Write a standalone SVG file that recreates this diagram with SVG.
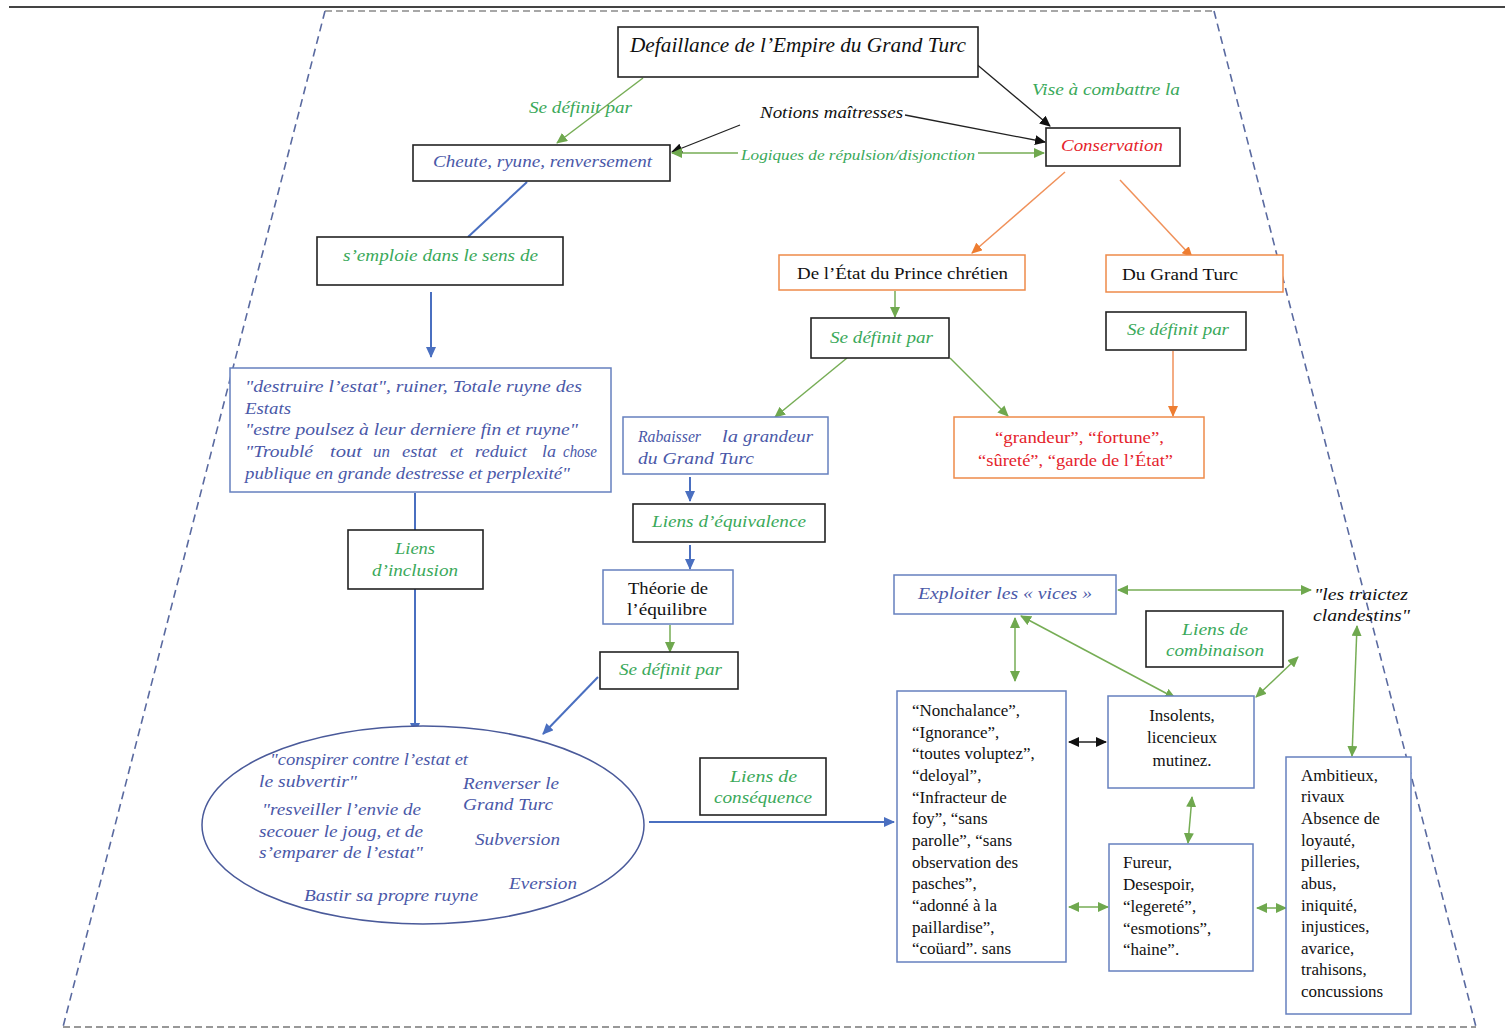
<svg xmlns="http://www.w3.org/2000/svg" width="1505" height="1030" viewBox="0 0 1505 1030">
<style>
text{font-family:"Liberation Serif","Times New Roman",serif;font-size:17px;fill:#111}
.it{font-style:italic;font-size:16px}
.g{fill:#3aa95a}
.b{fill:#4a58a8}
.r{fill:#e5232b}
.k{fill:#111}
.bx{fill:#fff;stroke:#222;stroke-width:1.6}
.bb{fill:#fff;stroke:#6680bf;stroke-width:1.5}
.ob{fill:#fff;stroke:#ee8a4a;stroke-width:1.5}
.lg{stroke:#76ad55;stroke-width:1.5;fill:none}
.lb{stroke:#4a6fc0;stroke-width:2;fill:none}
.lo{stroke:#f0915a;stroke-width:1.5;fill:none}
.lk{stroke:#222;stroke-width:1.3;fill:none}
.ag{marker-end:url(#mg)}
.ab{marker-end:url(#mb)}
.ao{marker-end:url(#mo)}
.ak{marker-end:url(#mk)}
.dg{marker-start:url(#mg);marker-end:url(#mg)}
.dk{marker-start:url(#mk);marker-end:url(#mk)}
</style>
<defs>
<marker id="mg" markerUnits="userSpaceOnUse" markerWidth="11" markerHeight="10" refX="10" refY="5" orient="auto-start-reverse"><path d="M0,0 L11,5 L0,10 z" fill="#6fa84e"/></marker>
<marker id="mb" markerUnits="userSpaceOnUse" markerWidth="11" markerHeight="10" refX="10" refY="5" orient="auto-start-reverse"><path d="M0,0 L11,5 L0,10 z" fill="#4a6fc0"/></marker>
<marker id="mo" markerUnits="userSpaceOnUse" markerWidth="11" markerHeight="10" refX="10" refY="5" orient="auto-start-reverse"><path d="M0,0 L11,5 L0,10 z" fill="#ee7d31"/></marker>
<marker id="mk" markerUnits="userSpaceOnUse" markerWidth="11" markerHeight="10" refX="10" refY="5" orient="auto-start-reverse"><path d="M0,0 L11,5 L0,10 z" fill="#111"/></marker>
</defs>
<rect width="1505" height="1030" fill="#fff"/>
<g id="frame">
<line x1="9" y1="7" x2="1505" y2="7" stroke="#444" stroke-width="2"/>
<line x1="325" y1="11" x2="1214" y2="11" stroke="#8a8a8a" stroke-width="1.6" stroke-dasharray="7,4"/>
<line x1="63" y1="1027" x2="1476" y2="1027" stroke="#777" stroke-width="1.6" stroke-dasharray="7,4"/>
<line x1="325" y1="11" x2="63" y2="1027" stroke="#5a6aa0" stroke-width="1.6" stroke-dasharray="8,5"/>
<line x1="1214" y1="11" x2="1476" y2="1027" stroke="#5a6aa0" stroke-width="1.6" stroke-dasharray="8,5"/>
</g>
<g id="connectors">
<line class="lg ag" x1="643" y1="78" x2="557" y2="143"/>
<line class="lk ak" x1="740" y1="125" x2="672" y2="152"/>
<line class="lk ak" x1="905" y1="115" x2="1045" y2="142"/>
<line class="lg ag" x1="738" y1="153" x2="672" y2="153"/>
<line class="lg ag" x1="978" y1="153" x2="1044" y2="153"/>
<line class="lk ak" x1="968" y1="57" x2="1050" y2="126"/>
<line class="lo ao" x1="1065" y1="172" x2="972" y2="253"/>
<line class="lo ao" x1="1120" y1="180" x2="1192" y2="257"/>
<line class="lg ag" x1="895" y1="291" x2="895" y2="317"/>
<line class="lg ag" x1="847" y1="358" x2="775" y2="417"/>
<line class="lg ag" x1="950" y1="358" x2="1008" y2="416"/>
<line class="lo ao" x1="1173" y1="351" x2="1173" y2="416"/>
<line class="lb ab" x1="690" y1="477" x2="690" y2="501"/>
<line class="lb ab" x1="690" y1="545" x2="690" y2="569"/>
<line class="lg ag" x1="670" y1="625" x2="670" y2="652"/>
<line class="lb ab" x1="598" y1="677" x2="543" y2="734"/>
<line class="lb" x1="527" y1="182" x2="468" y2="237"/>
<line class="lb ab" x1="431" y1="292" x2="431" y2="357"/>
<line class="lb" x1="415" y1="493" x2="415" y2="530"/>
<line class="lb ab" x1="415" y1="589" x2="415" y2="733"/>
<line class="lb ab" x1="649" y1="822" x2="894" y2="822"/>
<line class="lg dg" x1="1015" y1="618" x2="1015" y2="681"/>
<line class="lg dg" x1="1021" y1="616" x2="1175" y2="698"/>
<line class="lk dk" x1="1069" y1="742" x2="1106" y2="742"/>
<line class="lg dg" x1="1118" y1="590" x2="1311" y2="590"/>
<line class="lg dg" x1="1256" y1="697" x2="1298" y2="657"/>
<line class="lg dg" x1="1192" y1="797" x2="1188" y2="843"/>
<line class="lg dg" x1="1069" y1="907" x2="1108" y2="907"/>
<line class="lg dg" x1="1257" y1="908" x2="1286" y2="908"/>
<line class="lg dg" x1="1357" y1="626" x2="1352" y2="756"/>
</g>
<g id="labels">
<text class="it g" x="529" y="113" textLength="103" lengthAdjust="spacingAndGlyphs">Se définit par</text>
<text class="it k" x="760" y="118" textLength="143" lengthAdjust="spacingAndGlyphs">Notions maîtresses</text>
<text class="it g" x="741" y="160" textLength="234" lengthAdjust="spacingAndGlyphs" style="font-size:15px">Logiques de répulsion/disjonction</text>
<text class="it g" x="1032" y="95" textLength="148" lengthAdjust="spacingAndGlyphs">Vise à combattre la</text>
</g>
<g id="n-defaillance">
<rect class="bx" x="618" y="27" width="360" height="50"/>
<text class="it k" x="630" y="52" textLength="336" lengthAdjust="spacingAndGlyphs" style="font-size:20px">Defaillance de l’Empire du Grand Turc</text>
</g>
<g id="n-cheute">
<rect class="bx" x="413" y="145" width="257" height="36"/>
<text class="it b" x="433" y="167" textLength="219" lengthAdjust="spacingAndGlyphs">Cheute, ryune, renversement</text>
</g>
<g id="n-conservation">
<rect class="bx" x="1046" y="128" width="134" height="38"/>
<text class="it r" x="1061" y="151" textLength="102" lengthAdjust="spacingAndGlyphs">Conservation</text>
</g>
<g id="n-emploie">
<rect class="bx" x="317" y="237" width="246" height="48"/>
<text class="it g" x="343" y="261" textLength="195" lengthAdjust="spacingAndGlyphs">s’emploie dans le sens de</text>
</g>
<g id="n-etat-prince">
<rect class="ob" x="779" y="255" width="246" height="35"/>
<text x="797" y="279" textLength="211" lengthAdjust="spacingAndGlyphs">De l’État du Prince chrétien</text>
</g>
<g id="n-grand-turc">
<rect class="ob" x="1106" y="255" width="177" height="37"/>
<text x="1122" y="280" textLength="116" lengthAdjust="spacingAndGlyphs">Du Grand Turc</text>
</g>
<g id="n-def1">
<rect class="bx" x="811" y="318" width="138" height="40"/>
<text class="it g" x="830" y="343" textLength="103" lengthAdjust="spacingAndGlyphs">Se définit par</text>
</g>
<g id="n-def2">
<rect class="bx" x="1106" y="312" width="140" height="38"/>
<text class="it g" x="1127" y="335" textLength="102" lengthAdjust="spacingAndGlyphs">Se définit par</text>
</g>
<g id="n-grandeur">
<rect class="ob" x="954" y="417" width="250" height="61"/>
<text class="r" x="995" y="443" textLength="169" lengthAdjust="spacingAndGlyphs">“grandeur”, “fortune”,</text>
<text class="r" x="978" y="466" textLength="195" lengthAdjust="spacingAndGlyphs">“sûreté”, “garde de l’État”</text>
</g>
<g id="n-destruire">
<rect class="bb" x="230" y="368" width="381" height="124"/>
<text class="it b" x="245" y="392" textLength="337" lengthAdjust="spacingAndGlyphs">"destruire l’estat", ruiner, Totale ruyne des</text>
<text class="it b" x="245" y="414" textLength="46" lengthAdjust="spacingAndGlyphs">Estats</text>
<text class="it b" x="245" y="435" textLength="333" lengthAdjust="spacingAndGlyphs">"estre poulsez à leur derniere fin et ruyne"</text>
<text class="it b" x="245" y="457" textLength="68" lengthAdjust="spacingAndGlyphs">"Troublé</text>
<text class="it b" x="330" y="457" textLength="32" lengthAdjust="spacingAndGlyphs">tout</text>
<text class="it b" x="373" y="457" textLength="17" lengthAdjust="spacingAndGlyphs">un</text>
<text class="it b" x="402" y="457" textLength="35" lengthAdjust="spacingAndGlyphs">estat</text>
<text class="it b" x="450" y="457" textLength="13" lengthAdjust="spacingAndGlyphs">et</text>
<text class="it b" x="475" y="457" textLength="52" lengthAdjust="spacingAndGlyphs">reduict</text>
<text class="it b" x="542" y="457" textLength="14" lengthAdjust="spacingAndGlyphs">la</text>
<text class="it b" x="563" y="457" textLength="34" lengthAdjust="spacingAndGlyphs">chose</text>
<text class="it b" x="245" y="479" textLength="325" lengthAdjust="spacingAndGlyphs">publique en grande destresse et perplexité"</text>
</g>
<g id="n-rabaisser">
<rect class="bb" x="623" y="417" width="205" height="57"/>
<text class="it b" x="638" y="442" textLength="63" lengthAdjust="spacingAndGlyphs">Rabaisser</text>
<text class="it b" x="722" y="442" textLength="16" lengthAdjust="spacingAndGlyphs">la</text>
<text class="it b" x="743" y="442" textLength="70" lengthAdjust="spacingAndGlyphs">grandeur</text>
<text class="it b" x="638" y="464" textLength="116" lengthAdjust="spacingAndGlyphs">du Grand Turc</text>
</g>
<g id="n-equivalence">
<rect class="bx" x="633" y="504" width="192" height="38"/>
<text class="it g" x="652" y="527" textLength="154" lengthAdjust="spacingAndGlyphs">Liens d’équivalence</text>
</g>
<g id="n-inclusion">
<rect class="bx" x="348" y="530" width="135" height="59"/>
<text class="it g" x="395" y="554" textLength="40" lengthAdjust="spacingAndGlyphs">Liens</text>
<text class="it g" x="372" y="576" textLength="86" lengthAdjust="spacingAndGlyphs">d’inclusion</text>
</g>
<g id="n-equilibre">
<rect class="bb" x="603" y="570" width="130" height="54"/>
<text x="628" y="594" textLength="80" lengthAdjust="spacingAndGlyphs">Théorie de</text>
<text x="627" y="615" textLength="80" lengthAdjust="spacingAndGlyphs">l’équilibre</text>
</g>
<g id="n-def3">
<rect class="bx" x="600" y="652" width="138" height="37"/>
<text class="it g" x="619" y="675" textLength="103" lengthAdjust="spacingAndGlyphs">Se définit par</text>
</g>
<g id="n-ellipse">
<ellipse cx="423" cy="825" rx="221" ry="99" fill="#fff" stroke="#4a5a9a" stroke-width="1.5"/>
<text class="it b" x="270" y="765" textLength="198" lengthAdjust="spacingAndGlyphs">"conspirer contre l’estat et</text>
<text class="it b" x="259" y="787" textLength="98" lengthAdjust="spacingAndGlyphs">le subvertir"</text>
<text class="it b" x="262" y="815" textLength="159" lengthAdjust="spacingAndGlyphs">"resveiller l’envie de</text>
<text class="it b" x="259" y="837" textLength="164" lengthAdjust="spacingAndGlyphs">secouer le joug, et de</text>
<text class="it b" x="259" y="858" textLength="164" lengthAdjust="spacingAndGlyphs">s’emparer de l’estat"</text>
<text class="it b" x="463" y="789" textLength="96" lengthAdjust="spacingAndGlyphs">Renverser le</text>
<text class="it b" x="463" y="810" textLength="90" lengthAdjust="spacingAndGlyphs">Grand Turc</text>
<text class="it b" x="475" y="845" textLength="85" lengthAdjust="spacingAndGlyphs">Subversion</text>
<text class="it b" x="509" y="889" textLength="68" lengthAdjust="spacingAndGlyphs">Eversion</text>
<text class="it b" x="304" y="901" textLength="174" lengthAdjust="spacingAndGlyphs">Bastir sa propre ruyne</text>
</g>
<g id="n-consequence">
<rect class="bx" x="700" y="758" width="126" height="57"/>
<text class="it g" x="730" y="782" textLength="67" lengthAdjust="spacingAndGlyphs">Liens de</text>
<text class="it g" x="714" y="803" textLength="98" lengthAdjust="spacingAndGlyphs">conséquence</text>
</g>
<g id="n-exploiter">
<rect class="bb" x="894" y="575" width="222" height="39"/>
<text class="it b" x="918" y="599" textLength="174" lengthAdjust="spacingAndGlyphs">Exploiter les «  vices »</text>
</g>
<g id="n-traictez">
<text class="it k" x="1314" y="600" textLength="94" lengthAdjust="spacingAndGlyphs">"les traictez</text>
<text class="it k" x="1313" y="621" textLength="97" lengthAdjust="spacingAndGlyphs">clandestins"</text>
</g>
<g id="n-combinaison">
<rect class="bx" x="1146" y="611" width="137" height="56"/>
<text class="it g" x="1182" y="635" textLength="66" lengthAdjust="spacingAndGlyphs">Liens de</text>
<text class="it g" x="1166" y="656" textLength="98" lengthAdjust="spacingAndGlyphs">combinaison</text>
</g>
<g id="n-nonchalance">
<rect class="bb" x="897" y="691" width="169" height="271"/>
<text x="912" y="716">“Nonchalance”,</text>
<text x="912" y="738">“Ignorance”,</text>
<text x="912" y="759">“toutes voluptez”,</text>
<text x="912" y="781">“deloyal”,</text>
<text x="912" y="803">“Infracteur de</text>
<text x="912" y="824">foy”, “sans</text>
<text x="912" y="846">parolle”, “sans</text>
<text x="912" y="868">observation des</text>
<text x="912" y="889">pasches”,</text>
<text x="912" y="911">“adonné à la</text>
<text x="912" y="933">paillardise”,</text>
<text x="912" y="954">“coüard”. sans</text>
</g>
<g id="n-insolents">
<rect class="bb" x="1108" y="696" width="146" height="92"/>
<text x="1182" y="721" text-anchor="middle">Insolents,</text>
<text x="1182" y="743" text-anchor="middle">licencieux</text>
<text x="1182" y="766" text-anchor="middle">mutinez.</text>
</g>
<g id="n-fureur">
<rect class="bb" x="1109" y="844" width="144" height="127"/>
<text x="1123" y="868">Fureur,</text>
<text x="1123" y="890">Desespoir,</text>
<text x="1123" y="912">“legereté”,</text>
<text x="1123" y="934">“esmotions”,</text>
<text x="1123" y="955">“haine”.</text>
</g>
<g id="n-ambitieux">
<rect class="bb" x="1286" y="757" width="125" height="257"/>
<text x="1301" y="781">Ambitieux,</text>
<text x="1301" y="802">rivaux</text>
<text x="1301" y="824">Absence de</text>
<text x="1301" y="846">loyauté,</text>
<text x="1301" y="867">pilleries,</text>
<text x="1301" y="889">abus,</text>
<text x="1301" y="911">iniquité,</text>
<text x="1301" y="932">injustices,</text>
<text x="1301" y="954">avarice,</text>
<text x="1301" y="975">trahisons,</text>
<text x="1301" y="997">concussions</text>
</g>
</svg>
